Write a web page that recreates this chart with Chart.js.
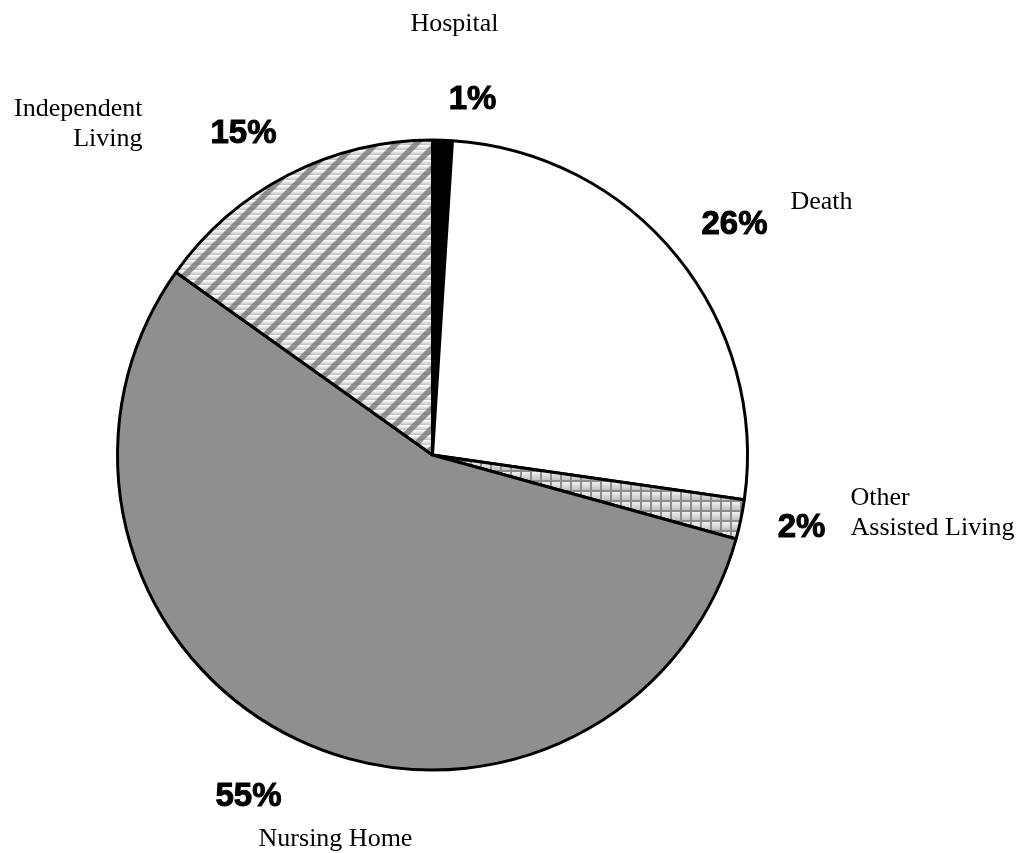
<!DOCTYPE html>
<html>
<head>
<meta charset="utf-8">
<title>Discharge Destination</title>
<script src="https://cdn.jsdelivr.net/npm/chart.js@4"></script>
<style>
  body { margin: 0; background: #fff; }
  canvas { display: block; }
</style>
</head>
<body>
<canvas id="pie" width="1027" height="853"></canvas>
<script>
// Slice data, clockwise from 12 o'clock
const categories = ['Hospital', 'Death', 'Other Assisted Living', 'Nursing Home', 'Independent Living'];
const nameLines = [['Hospital'], ['Death'], ['Other', 'Assisted Living'], ['Nursing Home'], ['Independent', 'Living']];
const shares = [1, 26, 2, 55, 15];

// Label anchors, as pixel offsets from the pie centre
const pctSpots = [[40, -346], [302, -221], [369, 82], [-184, 351], [-189, -312]];
const nameSpots = [[22, -424, 'center'], [358, -246, 'left'], [418, 50, 'left'], [-97, 391, 'center'], [-290, -339, 'right']];

// Light banded background with wide upward diagonals
function diagonalPattern(ctx) {
  const n = 20;
  const c = document.createElement('canvas');
  c.width = n; c.height = n;
  const g = c.getContext('2d');
  for (let y = 0; y < n; y++) {
    const t = (y % 5) / 4;
    const v = Math.round(253 - 55 * t);
    g.fillStyle = `rgb(${v},${v},${v})`;
    g.fillRect(0, y, n, 1);
  }
  g.strokeStyle = 'rgba(105,105,105,0.7)';
  g.lineWidth = 5.5;
  for (let o = -n; o <= n; o += n) {
    g.beginPath();
    g.moveTo(o - 3, n + 3);
    g.lineTo(o + n + 3, -3);
    g.stroke();
  }
  return ctx.createPattern(c, 'repeat');
}

// Small gray grid over shaded cells
function gridPattern(ctx) {
  const c = document.createElement('canvas');
  c.width = 10; c.height = 10;
  const g = c.getContext('2d');
  for (let y = 0; y < 10; y++) {
    const v = Math.round(250 - 6 * y);
    g.fillStyle = `rgb(${v},${v},${v})`;
    g.fillRect(0, y, 10, 1);
  }
  g.fillStyle = '#8c8c8c';
  g.fillRect(0, 0, 10, 2);
  g.fillRect(0, 0, 2, 10);
  return ctx.createPattern(c, 'repeat');
}

const canvas = document.getElementById('pie');
const ctx = canvas.getContext('2d');

const sliceFills = ['#000000', '#ffffff', gridPattern(ctx), '#8f8f8f', diagonalPattern(ctx)];

const pieLabels = {
  id: 'pieLabels',
  afterDraw(chart) {
    const arc = chart.getDatasetMeta(0).data[0];
    const cx = arc.x, cy = arc.y;
    const c = chart.ctx;
    c.save();
    c.fillStyle = '#000';
    c.textBaseline = 'alphabetic';

    // percentages
    c.font = 'bold 33px "Liberation Sans", Arial, sans-serif';
    c.textAlign = 'center';
    c.strokeStyle = '#000';
    c.lineWidth = 1;
    shares.forEach((v, i) => {
      const [dx, dy] = pctSpots[i];
      c.fillText(v + '%', cx + dx, cy + dy);
      c.strokeText(v + '%', cx + dx, cy + dy);
    });

    // category names
    c.font = '26px "Liberation Serif", "Times New Roman", serif';
    nameLines.forEach((lines, i) => {
      const [dx, dy, align] = nameSpots[i];
      c.textAlign = align;
      lines.forEach((txt, k) => {
        c.fillText(txt, cx + dx, cy + dy + k * 30);
      });
    });
    c.restore();
  }
};

new Chart(ctx, {
  type: 'pie',
  data: {
    labels: categories,
    datasets: [{
      data: shares,
      backgroundColor: sliceFills,
      borderColor: '#000',
      borderWidth: 3,
      hoverOffset: 0,
      offset: 0
    }]
  },
  options: {
    responsive: false,
    animation: false,
    radius: 315,
    layout: { padding: { left: 100, right: 262, top: 120, bottom: 63 } },
    plugins: {
      legend: { display: false },
      tooltip: { enabled: false }
    },
    events: []
  },
  plugins: [pieLabels]
});
</script>
</body>
</html>
